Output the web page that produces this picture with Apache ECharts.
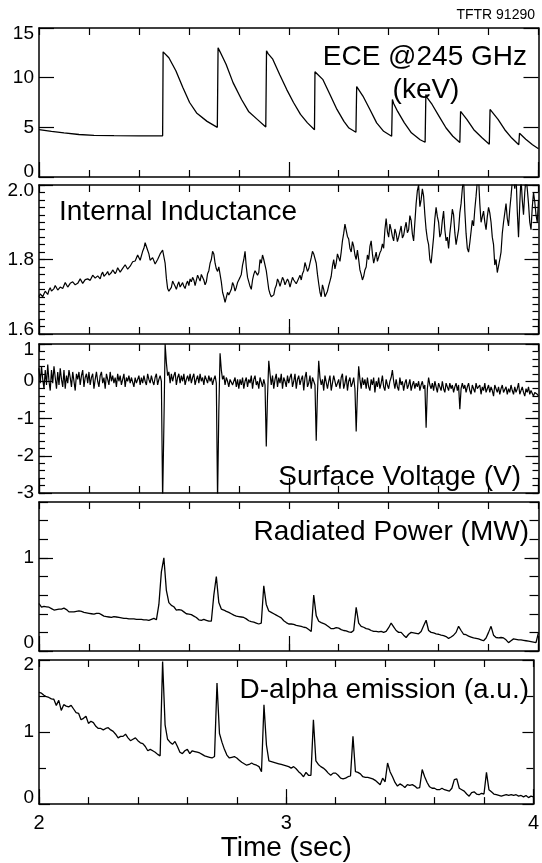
<!DOCTYPE html>
<html><head><meta charset="utf-8">
<script src="https://cdn.jsdelivr.net/npm/echarts@6/dist/echarts.min.js"></script>
<style>html,body{margin:0;padding:0;background:#fff}#c{width:542px;height:863px}</style>
</head><body><div id="c"></div>
<script>
// ---------------- DATA ----------------
const sampleStart = 2.0;            // first sample time of the sampled traces (sec)
const inductanceStep = 0.005, voltageStep = 0.005, powerStep = 0.01, dAlphaStep = 0.01;

const eceTime = [2.000, 2.050, 2.100, 2.160, 2.220, 2.300, 2.400, 2.495,
 2.497, 2.505, 2.520, 2.548, 2.576, 2.603, 2.631, 2.673, 2.714,
 2.717, 2.725, 2.749, 2.777, 2.811, 2.839, 2.874, 2.908,
 2.911, 2.918, 2.936, 2.964, 2.992, 3.019, 3.047, 3.075, 3.103,
 3.105, 3.112, 3.137, 3.165, 3.193, 3.221, 3.241, 3.269,
 3.272, 3.278, 3.297, 3.325, 3.352, 3.380, 3.412,
 3.415, 3.420, 3.436, 3.463, 3.491, 3.526, 3.546,
 3.549, 3.554, 3.574, 3.602, 3.630, 3.657, 3.685,
 3.688, 3.693, 3.713, 3.741, 3.775, 3.803,
 3.806, 3.811, 3.838, 3.865, 3.893, 3.921,
 3.924, 3.929, 3.949, 3.976, 4.000];
const eceValue = [4.76, 4.60, 4.45, 4.28, 4.20, 4.17, 4.15, 4.15,
 12.6, 12.4, 12.0, 10.7, 9.0, 7.5, 6.45, 5.6, 5.0,
 13.0, 12.6, 11.35, 9.5, 7.8, 6.6, 5.8, 5.03,
 12.7, 12.4, 11.86, 10.3, 8.8, 7.5, 6.3, 5.45, 4.76,
 10.6, 10.5, 9.8, 8.3, 6.8, 5.6, 4.93, 4.5,
 9.1, 8.9, 8.15, 6.8, 5.45, 4.6, 4.1,
 7.8, 7.4, 6.6, 5.45, 4.45, 3.75, 3.5,
 8.3, 8.0, 7.3, 6.1, 4.93, 4.1, 3.48,
 6.6, 6.4, 5.8, 4.76, 3.92, 3.3,
 6.8, 6.6, 5.8, 4.76, 3.92, 3.24,
 4.4, 4.25, 3.8, 3.24, 2.84];

const inductance = [1.700, 1.708, 1.705, 1.700, 1.708, 1.715, 1.712, 1.706, 1.718, 1.724, 1.715, 1.712, 1.722, 1.730, 1.725, 1.718, 1.720, 1.726, 1.728, 1.722, 1.730,
 1.738, 1.733, 1.726, 1.728, 1.736, 1.735, 1.740, 1.738, 1.732, 1.730, 1.736, 1.740, 1.748, 1.745, 1.736, 1.738, 1.746, 1.742, 1.748, 1.750,
 1.744, 1.748, 1.758, 1.755, 1.750, 1.745, 1.756, 1.752, 1.748, 1.760, 1.766, 1.755, 1.752, 1.762, 1.768, 1.758, 1.754, 1.765, 1.772, 1.770,
 1.762, 1.768, 1.778, 1.775, 1.766, 1.770, 1.776, 1.778, 1.786, 1.782, 1.774, 1.775, 1.782, 1.785, 1.794, 1.790, 1.796, 1.800, 1.812, 1.810,
 1.798, 1.800, 1.822, 1.830, 1.845, 1.840, 1.825, 1.815, 1.798, 1.795, 1.805, 1.800, 1.788, 1.790, 1.800, 1.805, 1.815, 1.810, 1.825, 1.830,
 1.790, 1.750, 1.722, 1.715, 1.712, 1.725, 1.742, 1.735, 1.728, 1.720, 1.732, 1.740, 1.726, 1.730, 1.738, 1.728, 1.722, 1.735, 1.742, 1.730,
 1.748, 1.740, 1.752, 1.745, 1.730, 1.735, 1.758, 1.750, 1.742, 1.760, 1.765, 1.745, 1.732, 1.740, 1.762, 1.770, 1.790, 1.800, 1.822, 1.815,
 1.790, 1.775, 1.768, 1.780, 1.760, 1.740, 1.712, 1.700, 1.685, 1.690, 1.712, 1.705, 1.700, 1.720, 1.738, 1.730, 1.715, 1.725, 1.738, 1.745,
 1.752, 1.760, 1.785, 1.800, 1.822, 1.780, 1.752, 1.740, 1.728, 1.720, 1.745, 1.760, 1.770, 1.775, 1.758, 1.765, 1.800, 1.790, 1.812, 1.800,
 1.795, 1.770, 1.745, 1.720, 1.708, 1.700, 1.695, 1.705, 1.722, 1.730, 1.748, 1.740, 1.728, 1.725, 1.752, 1.745, 1.732, 1.735, 1.748, 1.740,
 1.726, 1.730, 1.752, 1.745, 1.740, 1.735, 1.742, 1.750, 1.758, 1.745, 1.762, 1.770, 1.792, 1.780, 1.768, 1.775, 1.790, 1.805, 1.822, 1.815,
 1.812, 1.790, 1.760, 1.735, 1.712, 1.700, 1.732, 1.720, 1.700, 1.695, 1.715, 1.730, 1.742, 1.755, 1.782, 1.800, 1.775, 1.790, 1.815, 1.805,
 1.795, 1.820, 1.850, 1.870, 1.895, 1.890, 1.862, 1.855, 1.830, 1.820, 1.848, 1.835, 1.812, 1.800, 1.825, 1.800, 1.772, 1.760, 1.745, 1.755,
 1.772, 1.780, 1.812, 1.800, 1.835, 1.850, 1.815, 1.790, 1.805, 1.820, 1.795, 1.800, 1.818, 1.825, 1.842, 1.830, 1.880, 1.910, 1.875, 1.860,
 1.895, 1.880, 1.862, 1.850, 1.882, 1.870, 1.848, 1.860, 1.875, 1.890, 1.858, 1.865, 1.885, 1.900, 1.872, 1.880, 1.918, 1.905, 1.868, 1.850,
 1.900, 1.950, 1.985, 2.000, 1.942, 1.960, 1.990, 1.970, 1.920, 1.880, 1.855, 1.840, 1.800, 1.790, 1.825, 1.860, 1.910, 1.940, 1.915, 1.900,
 1.860, 1.870, 1.905, 1.930, 1.880, 1.850, 1.860, 1.830, 1.870, 1.900, 1.935, 1.920, 1.872, 1.840, 1.860, 1.880, 1.925, 1.950, 1.990, 2.020,
 1.930, 1.870, 1.830, 1.820, 1.845, 1.850, 1.905, 1.890, 1.935, 1.970, 2.010, 2.020, 1.950, 1.900, 1.915, 1.930, 1.900, 1.880, 1.915, 1.940,
 1.925, 1.900, 1.860, 1.840, 1.785, 1.800, 1.765, 1.770, 1.800, 1.820, 1.870, 1.900, 1.925, 1.950, 1.910, 1.890, 1.935, 1.970, 2.010, 2.020,
 1.990, 2.030, 1.930, 1.860, 1.950, 2.020, 1.960, 1.920, 1.980, 2.020, 1.990, 1.950, 1.900, 1.880, 1.940, 1.980, 1.955, 1.920, 1.900, 1.960];

const surfaceVoltage = [0.35, -0.05, 0.40, 0.05, -0.20, 0.30, -0.10, 0.45, 0.00, -0.25, 0.30, -0.05, 0.40, 0.10, -0.20, 0.25, -0.10, 0.35, 0.05, -0.15, 0.30,
 -0.20, 0.15, -0.05, 0.30, 0.10, -0.15, 0.25, 0.00, -0.25, 0.20, 0.05, 0.25, -0.10, 0.15, 0.30, -0.15, 0.10, 0.20, -0.05, 0.25,
 -0.10, 0.10, 0.20, -0.20, 0.05, 0.25, 0.00, -0.15, 0.15, 0.25, -0.05, 0.10, -0.20, 0.20, 0.05, -0.10, 0.25, 0.00, 0.15, -0.05,
 0.10, -0.15, 0.20, 0.00, 0.15, -0.10, 0.05, 0.20, -0.15, 0.10, 0.00, 0.15, -0.05, 0.10, 0.05, -0.15, 0.10, -0.05, 0.05, 0.15,
 -0.10, 0.10, -0.05, 0.15, 0.00, -0.10, 0.20, 0.05, -0.05, 0.15, 0.00, -0.10, 0.10, 0.20, -0.10, 0.05, 0.15, 0.00, -3.20, -1.20,
 1.00, 0.50, 0.15, 0.25, -0.05, 0.20, 0.00, 0.15, 0.25, -0.10, 0.10, 0.20, -0.05, 0.15, 0.00, 0.20, -0.10, 0.05, 0.15, 0.00,
 0.20, -0.05, 0.10, 0.20, -0.10, 0.05, 0.15, -0.05, 0.20, 0.00, 0.10, -0.10, 0.15, 0.05, -0.05, 0.15, 0.00, 0.10, -0.10, 0.05,
 0.15, -0.05, -3.20, -0.80, 0.75, 0.30, 0.05, 0.15, -0.10, 0.10, 0.00, -0.15, 0.05, 0.10, -0.10, 0.00, 0.10, -0.15, 0.05, -0.20,
 0.05, -0.10, 0.10, -0.20, 0.00, 0.10, -0.15, 0.05, -0.05, 0.15, -0.20, 0.05, 0.15, -0.10, 0.00, -0.20, 0.10, 0.05, -0.15, 0.05,
 -0.10, -1.75, -0.40, 0.55, 0.20, -0.10, 0.15, -0.20, 0.05, 0.20, -0.15, 0.10, -0.05, 0.20, -0.20, 0.10, 0.00, -0.15, 0.15, -0.05,
 0.10, 0.20, -0.15, 0.00, 0.20, -0.20, 0.05, 0.15, -0.10, 0.05, 0.15, -0.25, 0.10, 0.25, -0.15, -0.05, 0.15, -0.20, 0.10, 0.05,
 -0.10, -1.60, -0.30, 0.55, 0.10, -0.10, 0.05, -0.25, 0.15, 0.20, -0.20, 0.00, 0.15, -0.25, -0.05, 0.15, 0.20, -0.15, -0.05, 0.05,
 -0.20, 0.10, 0.20, -0.20, -0.05, 0.15, -0.25, 0.00, 0.10, -0.15, -0.05, 0.10, -0.20, -1.35, -0.30, 0.40, 0.05, -0.20, 0.10, -0.10,
 0.05, -0.20, 0.10, -0.15, -0.25, 0.05, -0.10, 0.10, -0.30, 0.00, -0.15, 0.10, -0.20, -0.05, 0.15, -0.15, -0.25, 0.05, -0.10, -0.20,
 0.00, 0.10, 0.30, 0.00, -0.20, 0.05, -0.15, -0.25, 0.10, -0.10, 0.00, -0.25, -0.05, 0.05, -0.20, -0.10, 0.05, -0.25, -0.10, 0.00,
 -0.20, -0.05, -0.15, 0.00, -0.25, -0.10, 0.00, -0.20, -0.10, -1.25, -0.20, 0.10, -0.10, -0.20, -0.05, -0.25, 0.00, -0.15, -0.30, -0.05,
 -0.15, -0.25, 0.00, -0.20, -0.30, -0.05, -0.15, -0.25, -0.05, -0.20, -0.10, -0.30, -0.15, -0.05, -0.25, -0.10, -0.75, -0.20, -0.05, -0.20,
 -0.10, -0.30, -0.15, -0.05, -0.25, -0.35, -0.10, -0.20, -0.30, -0.05, -0.20, -0.25, -0.10, -0.35, -0.15, -0.25, -0.05, -0.30, -0.20, -0.10,
 -0.30, -0.15, -0.25, -0.40, -0.10, -0.20, -0.30, -0.15, -0.35, -0.20, -0.10, -0.30, -0.25, -0.15, -0.35, -0.20, -0.30, -0.10, -0.25, -0.35,
 -0.15, -0.30, -0.20, -0.05, -0.35, -0.25, -0.15, -0.30, -0.40, -0.20, -0.30, -0.15, -0.35, -0.25, -0.20, -0.40, -0.30, -0.25, -0.35, -0.40];

const radiatedPower = [0.51, 0.47, 0.48, 0.475, 0.47, 0.455, 0.44, 0.445, 0.45, 0.45, 0.46,
 0.445, 0.42, 0.42, 0.42, 0.425, 0.43, 0.425, 0.415, 0.41, 0.405,
 0.40, 0.395, 0.405, 0.405, 0.39, 0.375, 0.37, 0.365, 0.36, 0.37,
 0.365, 0.36, 0.355, 0.35, 0.35, 0.345, 0.345, 0.345, 0.34, 0.34,
 0.34, 0.335, 0.335, 0.33, 0.34, 0.35, 0.335, 0.50, 0.85, 1.00,
 0.65, 0.52, 0.49, 0.475, 0.44, 0.445, 0.44, 0.42, 0.40, 0.395,
 0.39, 0.375, 0.36, 0.335, 0.33, 0.34, 0.33, 0.32, 0.32, 0.60,
 0.80, 0.52, 0.45, 0.44, 0.425, 0.415, 0.40, 0.385, 0.375, 0.37,
 0.365, 0.36, 0.345, 0.325, 0.315, 0.31, 0.30, 0.29, 0.30, 0.70,
 0.50, 0.43, 0.415, 0.40, 0.385, 0.37, 0.355, 0.325, 0.305, 0.29,
 0.29, 0.285, 0.275, 0.27, 0.265, 0.255, 0.25, 0.23, 0.21, 0.60,
 0.38, 0.32, 0.305, 0.295, 0.28, 0.26, 0.24, 0.24, 0.25, 0.245,
 0.23, 0.22, 0.215, 0.205, 0.20, 0.22, 0.47, 0.30, 0.265, 0.255,
 0.24, 0.235, 0.22, 0.21, 0.21, 0.205, 0.21, 0.20, 0.21, 0.25,
 0.30, 0.26, 0.22, 0.20, 0.20, 0.17, 0.145, 0.18, 0.20, 0.195,
 0.19, 0.185, 0.21, 0.27, 0.33, 0.22, 0.20, 0.195, 0.185, 0.18,
 0.17, 0.165, 0.155, 0.135, 0.15, 0.17, 0.20, 0.265, 0.22, 0.18,
 0.175, 0.16, 0.15, 0.14, 0.135, 0.13, 0.12, 0.11, 0.14, 0.20,
 0.265, 0.17, 0.145, 0.14, 0.145, 0.14, 0.12, 0.09, 0.11, 0.13,
 0.125, 0.12, 0.12, 0.115, 0.11, 0.105, 0.10, 0.095, 0.09, 0.20];

const dAlpha = [1.55, 1.54, 1.51, 1.49, 1.48, 1.46, 1.455, 1.37, 1.44, 1.30, 1.38,
 1.36, 1.35, 1.37, 1.32, 1.27, 1.26, 1.17, 1.19, 1.22, 1.12,
 1.15, 1.13, 1.08, 1.05, 1.05, 1.03, 1.05, 1.06, 1.03, 1.01,
 0.97, 0.92, 0.94, 0.94, 0.97, 0.92, 0.88, 0.90, 0.92, 0.88,
 0.85, 0.84, 0.80, 0.74, 0.76, 0.74, 0.72, 0.69, 0.67, 1.98,
 1.10, 0.90, 0.86, 0.83, 0.87, 0.80, 0.72, 0.70, 0.74, 0.76,
 0.70, 0.74, 0.73, 0.72, 0.71, 0.69, 0.67, 0.66, 0.65, 0.64,
 0.66, 1.68, 0.98, 0.86, 0.76, 0.68, 0.64, 0.65, 0.66, 0.64,
 0.61, 0.58, 0.56, 0.54, 0.55, 0.57, 0.55, 0.54, 0.52, 0.45,
 1.38, 0.82, 0.60, 0.59, 0.58, 0.57, 0.56, 0.55, 0.54, 0.53,
 0.52, 0.50, 0.52, 0.49, 0.45, 0.42, 0.38, 0.44, 0.40, 0.40,
 1.17, 0.60, 0.55, 0.52, 0.50, 0.47, 0.43, 0.40, 0.43, 0.43,
 0.40, 0.36, 0.35, 0.36, 0.38, 0.39, 0.94, 0.45, 0.44, 0.42,
 0.38, 0.37, 0.37, 0.36, 0.35, 0.33, 0.30, 0.27, 0.36, 0.31,
 0.57, 0.45, 0.38, 0.30, 0.25, 0.28, 0.26, 0.23, 0.27, 0.26,
 0.27, 0.25, 0.22, 0.23, 0.48, 0.38, 0.30, 0.24, 0.22, 0.22,
 0.20, 0.20, 0.22, 0.20, 0.19, 0.18, 0.22, 0.34, 0.35, 0.22,
 0.20, 0.18, 0.14, 0.11, 0.16, 0.17, 0.14, 0.13, 0.15, 0.14,
 0.44, 0.20, 0.17, 0.14, 0.13, 0.12, 0.11, 0.12, 0.13, 0.12,
 0.13, 0.12, 0.13, 0.11, 0.12, 0.10, 0.12, 0.09, 0.11, 0.10];

// tick labels
const timeTicks = [2, 3, 4];
const eceTicks = [0, 5, 10, 15];
const inductanceTicks = [1.6, 1.8, 2.0];
const voltageTicks = [-3, -2, -1, 0, 1];
const powerTicks = [0, 1];
const dAlphaTicks = [0, 1, 2];

const titles = ['ECE @245 GHz', '(keV)', 'Internal Inductance', 'Surface Voltage (V)',
                'Radiated Power (MW)', 'D-alpha emission (a.u.)'];

// ---------------- BUILD ----------------
function range(a, b, step) {
  const out = []; const n = Math.round((b - a) / step);
  for (let i = 0; i <= n; i++) out.push(+(a + i * step).toFixed(6));
  return out;
}
function sampled(values, step) {
  return values.map((v, i) => [+(sampleStart + i * step).toFixed(4), v]);
}
const FONT = '"Liberation Sans", Arial, Helvetica, sans-serif';
const BLACK = '#000';

const panels = [
  {top: 28,  height: 149, min: 0,   max: 15,  major: eceTicks,        minor: [],                   majorLen: 15, minorLen: 0, dec: 0, topShift: 6, bottomShift: 5,
   data: eceTime.map((t, i) => [t, eceValue[i]]), width: 1.3},
  {top: 185, height: 149, min: 1.6, max: 2.0, major: inductanceTicks, minor: range(1.6, 2.0, 0.02), majorLen: 14, minorLen: 6, dec: 1, topShift: 6, bottomShift: 4,
   data: sampled(inductance, inductanceStep), width: 1.2},
  {top: 344, height: 149, min: -3,  max: 1,   major: voltageTicks,    minor: range(-3, 1, 0.2),     majorLen: 13, minorLen: 6, dec: 0, topShift: 6, bottomShift: 0,
   data: sampled(surfaceVoltage, voltageStep), width: 1.2},
  {top: 502, height: 149, min: 0,   max: 1.6, major: powerTicks,      minor: range(0, 1.6, 0.2),    majorLen: 14, minorLen: 9, dec: 0, topShift: 0, bottomShift: 8,
   data: sampled(radiatedPower, powerStep), width: 1.3},
  {top: 660, height: 149, min: 0,   max: 2,   major: dAlphaTicks,     minor: [0.5, 1.5],            majorLen: 11, minorLen: 7, dec: 0, topShift: 5, bottomShift: 6,
   data: sampled(dAlpha, dAlphaStep), width: 1.3}
];

const grids = [], xAxes = [], yAxes = [], series = [];
const xMinor = range(2, 4, 0.2);
const lineStyle = {color: BLACK, width: 1.5};
const tickStyle = {color: BLACK, width: 1.2};

panels.forEach((p, k) => {
  grids.push({left: 39, right: 3.5, top: p.top, height: p.height});
  const last = k === panels.length - 1;
  xAxes.push({
    gridIndex: k, type: 'value', min: 2, max: 4, position: 'bottom',
    splitLine: {show: false},
    axisLine: {show: true, onZero: false, lineStyle: lineStyle},
    axisTick: {show: true, inside: true, length: 15, customValues: timeTicks, lineStyle: tickStyle},
    axisLabel: last ? {show: true, customValues: timeTicks, margin: 9, fontSize: 20, fontFamily: FONT, color: BLACK,
                        formatter: v => String(v)} : {show: false},
    name: last ? 'Time (sec)' : '', nameLocation: 'middle', nameGap: 27,
    nameTextStyle: {fontSize: 28, fontFamily: FONT, color: BLACK}
  });
  xAxes.push({
    gridIndex: k, type: 'value', min: 2, max: 4, position: 'bottom',
    splitLine: {show: false}, axisLine: {show: false, onZero: false},
    axisTick: {show: true, inside: true, length: 7, customValues: xMinor, lineStyle: tickStyle},
    axisLabel: {show: false}
  });
  xAxes.push({
    gridIndex: k, type: 'value', min: 2, max: 4, position: 'top',
    splitLine: {show: false}, axisLine: {show: true, onZero: false, lineStyle: lineStyle},
    axisTick: {show: true, inside: true, length: 7, customValues: xMinor, lineStyle: tickStyle},
    axisLabel: {show: false}
  });
  const fmt = v => {
    const s = p.dec ? v.toFixed(p.dec) : String(Math.round(v));
    if (p.topShift && Math.abs(v - p.max) < 1e-9) return '{t|' + s + '}';
    if (p.bottomShift && Math.abs(v - p.min) < 1e-9) return '{b|' + s + '}';
    return s;
  };
  const labelFont = {fontSize: 19, fontFamily: FONT, color: BLACK};
  ['left', 'right'].forEach(pos => {
    yAxes.push({
      gridIndex: k, type: 'value', min: p.min, max: p.max, position: pos,
      splitLine: {show: false},
      axisLine: {show: true, onZero: false, lineStyle: lineStyle},
      axisTick: {show: true, inside: true, length: p.majorLen, customValues: p.major, lineStyle: tickStyle},
      axisLabel: pos === 'left' ? Object.assign({show: true, customValues: p.major, margin: 5, formatter: fmt,
        rich: {t: Object.assign({padding: [2 * p.topShift, 0, 0, 0]}, labelFont),
               b: Object.assign({padding: [0, 0, 2 * p.bottomShift, 0]}, labelFont)}}, labelFont) : {show: false}
    });
    yAxes.push({
      gridIndex: k, type: 'value', min: p.min, max: p.max, position: pos,
      splitLine: {show: false}, axisLine: {show: false, onZero: false},
      axisTick: {show: p.minor.length > 0, inside: true, length: p.minorLen, customValues: p.minor.length ? p.minor : [p.min], lineStyle: tickStyle},
      axisLabel: {show: false}
    });
  });
  series.push({
    type: 'line', xAxisIndex: k * 3, yAxisIndex: k * 4, data: p.data,
    showSymbol: false, symbol: 'none', clip: true, animation: false,
    lineStyle: {color: BLACK, width: p.width}
  });
});

const textStyle = (size) => ({fontSize: size, fontFamily: FONT, fill: BLACK});
const graphic = [
  {type: 'text', x: 535, y: 15, style: Object.assign({text: 'TFTR 91290', align: 'right', verticalAlign: 'middle'}, textStyle(14))},
  {type: 'text', x: 527, y: 57, style: Object.assign({text: titles[0], align: 'right', verticalAlign: 'middle'}, textStyle(28))},
  {type: 'text', x: 426, y: 90, style: Object.assign({text: titles[1], align: 'center', verticalAlign: 'middle'}, textStyle(28))},
  {type: 'text', x: 59, y: 212, style: Object.assign({text: titles[2], align: 'left', verticalAlign: 'middle'}, textStyle(28))},
  {type: 'text', x: 521, y: 477, style: Object.assign({text: titles[3], align: 'right', verticalAlign: 'middle'}, textStyle(28))},
  {type: 'text', x: 529, y: 532, style: Object.assign({text: titles[4], align: 'right', verticalAlign: 'middle'}, textStyle(28))},
  {type: 'text', x: 529, y: 690, style: Object.assign({text: titles[5], align: 'right', verticalAlign: 'middle'}, textStyle(28))}
];

const chart = echarts.init(document.getElementById('c'), null, {renderer: 'canvas'});
chart.setOption({
  animation: false,
  backgroundColor: '#fff',
  grid: grids, xAxis: xAxes, yAxis: yAxes, series: series, graphic: graphic
});
</script></body></html>
